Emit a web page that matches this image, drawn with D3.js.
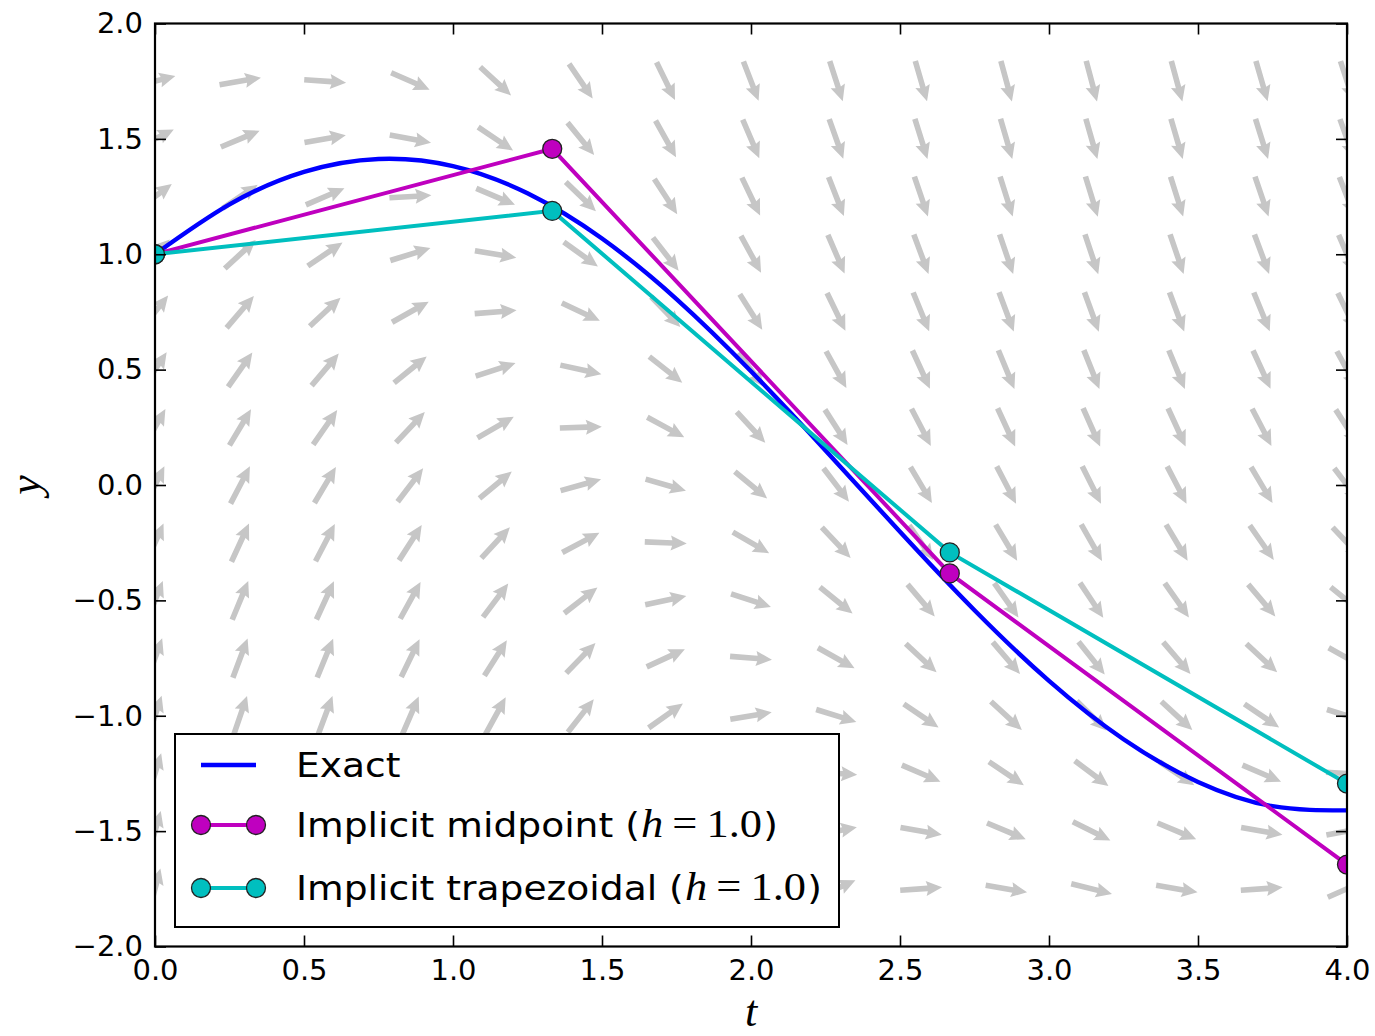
<!DOCTYPE html>
<html>
<head>
<meta charset="utf-8">
<script src="https://cdn.jsdelivr.net/npm/d3@7"></script>
<style>
  body { margin: 0; background: #fff; }
  svg { display: block; }
  .tick text { font-family: "DejaVu Sans", sans-serif; font-size: 29px; fill: #000; }
  .tick line { stroke: #000; stroke-width: 1.6px; }
</style>
</head>
<body>
<div id="chart"></div>
<script>
// exact solution
const tExact = [0, 0.25, 0.5, 0.75, 1.0, 1.25, 1.5, 1.75, 2.0, 2.25, 2.5, 2.75, 3.0, 3.25, 3.5, 3.75, 4.0];
const yExact = [1.0, 1.216, 1.357, 1.413, 1.382, 1.264, 1.068, 0.806, 0.493, 0.150, -0.203, -0.543, -0.849, -1.102, -1.287, -1.392, -1.410];

// numerical steps
const tSteps = [0, 1.333, 2.667, 4.0];
const yMidpoint = [1.0, 1.457, -0.383, -1.645];
const yTrapezoidal = [1.0, 1.188, -0.292, -1.294];

// direction field grid (arrow centres) and slopes dy/dt, rows top to bottom
const tGrid = [0, 0.286, 0.571, 0.857, 1.143, 1.429, 1.714, 2.0, 2.286, 2.571, 2.857, 3.143, 3.429, 3.714, 4.0];
const yGrid = [1.75, 1.5, 1.25, 1.0, 0.75, 0.5, 0.25, 0, -0.25, -0.5, -0.75, -1.0, -1.25, -1.5, -1.75];
const fieldSlopes = [
  [0.25, 0.17, -0.07, -0.44, -0.92, -1.47, -2.04, -2.58, -3.06, -3.43, -3.67, -3.75, -3.67, -3.43, -3.06],
  [0.50, 0.42, 0.18, -0.19, -0.67, -1.22, -1.79, -2.33, -2.81, -3.18, -3.42, -3.50, -3.42, -3.18, -2.81],
  [0.75, 0.67, 0.43, 0.06, -0.42, -0.97, -1.54, -2.08, -2.56, -2.93, -3.17, -3.25, -3.17, -2.93, -2.56],
  [1.00, 0.92, 0.68, 0.31, -0.17, -0.72, -1.29, -1.83, -2.31, -2.68, -2.92, -3.00, -2.92, -2.68, -2.31],
  [1.25, 1.17, 0.93, 0.56, 0.08, -0.47, -1.04, -1.58, -2.06, -2.43, -2.67, -2.75, -2.67, -2.43, -2.06],
  [1.50, 1.42, 1.18, 0.81, 0.33, -0.22, -0.79, -1.33, -1.81, -2.18, -2.42, -2.50, -2.42, -2.18, -1.81],
  [1.75, 1.67, 1.43, 1.06, 0.58, 0.03, -0.54, -1.08, -1.56, -1.93, -2.17, -2.25, -2.17, -1.93, -1.56],
  [2.00, 1.92, 1.68, 1.31, 0.83, 0.28, -0.29, -0.83, -1.31, -1.68, -1.92, -2.00, -1.92, -1.68, -1.31],
  [2.25, 2.17, 1.93, 1.56, 1.08, 0.53, -0.04, -0.58, -1.06, -1.43, -1.67, -1.75, -1.67, -1.43, -1.06],
  [2.50, 2.42, 2.18, 1.81, 1.33, 0.78, 0.21, -0.33, -0.81, -1.18, -1.42, -1.50, -1.42, -1.18, -0.81],
  [2.75, 2.67, 2.43, 2.06, 1.58, 1.03, 0.46, -0.08, -0.56, -0.93, -1.17, -1.25, -1.17, -0.93, -0.56],
  [3.00, 2.92, 2.68, 2.31, 1.83, 1.28, 0.71, 0.17, -0.31, -0.68, -0.92, -1.00, -0.92, -0.68, -0.31],
  [3.25, 3.17, 2.93, 2.56, 2.08, 1.53, 0.96, 0.42, -0.06, -0.43, -0.67, -0.75, -0.67, -0.43, -0.06],
  [3.50, 3.42, 3.18, 2.81, 2.33, 1.78, 1.21, 0.67, 0.19, -0.18, -0.42, -0.50, -0.42, -0.18, 0.19],
  [3.75, 3.67, 3.43, 3.06, 2.58, 2.03, 1.46, 0.92, 0.44, 0.07, -0.17, -0.25, -0.17, 0.07, 0.44]
];

const xTicks = [0, 0.5, 1.0, 1.5, 2.0, 2.5, 3.0, 3.5, 4.0];
const yTicks = [-2.0, -1.5, -1.0, -0.5, 0, 0.5, 1.0, 1.5, 2.0];
const legendLabels = ["Exact", "Implicit midpoint", "Implicit trapezoidal"];
const stepSymbol = "h";
const stepValue = "1.0";

const W = 1375, H = 1036;
const plotLeft = 155, plotRight = 1347, plotTop = 23.5, plotBottom = 946.5;

const svg = d3.select("#chart").append("svg")
    .attr("width", W)
    .attr("height", H);

const x = d3.scaleLinear().domain([0, 4]).range([plotLeft, plotRight]);
const y = d3.scaleLinear().domain([-2, 2]).range([plotBottom, plotTop]);

svg.append("clipPath").attr("id", "plot-clip")
  .append("rect")
    .attr("x", plotLeft).attr("y", plotTop)
    .attr("width", plotRight - plotLeft).attr("height", plotBottom - plotTop);

const plot = svg.append("g").attr("clip-path", "url(#plot-clip)");

// quiver: unit arrows, pivot in the middle
const arrowLen = 42, shaftW = 2.8, headW = 7.5, headL = 16;
const arrowShape = [
  [-arrowLen / 2, -shaftW], [arrowLen / 2 - headL + 1.5, -shaftW], [arrowLen / 2 - headL, -headW],
  [arrowLen / 2, 0],
  [arrowLen / 2 - headL, headW], [arrowLen / 2 - headL + 1.5, shaftW], [-arrowLen / 2, shaftW]
];
const arrows = [];
yGrid.forEach((yv, j) => {
  tGrid.forEach((tv, i) => arrows.push({t: tv, y: yv, s: fieldSlopes[j][i]}));
});
plot.append("g")
  .selectAll("polygon")
  .data(arrows)
  .join("polygon")
    .attr("points", arrowShape.map(p => p.join(",")).join(" "))
    .attr("transform", d => `translate(${x(d.t)},${y(d.y)}) rotate(${Math.atan2(-d.s, 1) * 180 / Math.PI})`)
    .attr("fill", "#c6c6c6");

// exact curve
const exactPts = tExact.map((t, i) => [t, yExact[i]]);
plot.append("path")
    .datum(exactPts)
    .attr("fill", "none")
    .attr("stroke", "#0000ff")
    .attr("stroke-width", 4.4)
    .attr("d", d3.line().x(d => x(d[0])).y(d => y(d[1])).curve(d3.curveNatural));

const series = [
  {vals: yMidpoint, color: "#bf00bf"},
  {vals: yTrapezoidal, color: "#00bfbf"}
];
series.forEach(s => {
  const pts = tSteps.map((t, i) => [t, s.vals[i]]);
  plot.append("path")
      .datum(pts)
      .attr("fill", "none")
      .attr("stroke", s.color)
      .attr("stroke-width", 4)
      .attr("d", d3.line().x(d => x(d[0])).y(d => y(d[1])));
  plot.append("g")
    .selectAll("circle")
    .data(pts)
    .join("circle")
      .attr("cx", d => x(d[0]))
      .attr("cy", d => y(d[1]))
      .attr("r", 9.5)
      .attr("fill", s.color)
      .attr("stroke", "#222")
      .attr("stroke-width", 1.3);
});

// axes, ticks pointing inwards on all sides
const fmt = d3.format(".1f");
svg.append("g")
    .attr("transform", `translate(0,${plotBottom})`)
    .call(d3.axisBottom(x).tickValues(xTicks).tickFormat(fmt).tickSizeInner(-11).tickSizeOuter(0).tickPadding(13))
    .call(g => g.select(".domain").remove());
svg.append("g")
    .attr("transform", `translate(0,${plotTop})`)
    .call(d3.axisTop(x).tickValues(xTicks).tickFormat("").tickSizeInner(-11).tickSizeOuter(0))
    .call(g => g.select(".domain").remove());
svg.append("g")
    .attr("transform", `translate(${plotLeft},0)`)
    .call(d3.axisLeft(y).tickValues(yTicks).tickFormat(fmt).tickSizeInner(-11).tickSizeOuter(0).tickPadding(12))
    .call(g => g.select(".domain").remove());
svg.append("g")
    .attr("transform", `translate(${plotRight},0)`)
    .call(d3.axisRight(y).tickValues(yTicks).tickFormat("").tickSizeInner(-11).tickSizeOuter(0))
    .call(g => g.select(".domain").remove());

svg.append("rect")
    .attr("x", plotLeft).attr("y", plotTop)
    .attr("width", plotRight - plotLeft).attr("height", plotBottom - plotTop)
    .attr("fill", "none")
    .attr("stroke", "#000")
    .attr("stroke-width", 2.2);

// axis labels
svg.append("text")
    .attr("x", 751).attr("y", 1026)
    .attr("text-anchor", "middle")
    .attr("font-family", "Liberation Serif, serif")
    .attr("font-style", "italic")
    .attr("font-size", 44)
    .text("t");
svg.append("text")
    .attr("transform", `translate(40,${(plotTop + plotBottom) / 2}) rotate(-90)`)
    .attr("text-anchor", "middle")
    .attr("font-family", "Liberation Serif, serif")
    .attr("font-style", "italic")
    .attr("font-size", 44)
    .text("y");

// legend
const legend = svg.append("g");
legend.append("rect")
    .attr("x", 175).attr("y", 734)
    .attr("width", 664).attr("height", 193)
    .attr("fill", "#fff")
    .attr("stroke", "#000")
    .attr("stroke-width", 2);

const rowY = [765, 825, 888];
const legendColors = ["#0000ff", "#bf00bf", "#00bfbf"];
legendLabels.forEach((label, i) => {
  const row = legend.append("g").attr("transform", `translate(0,${rowY[i]})`);
  row.append("line")
      .attr("x1", 201).attr("x2", 256)
      .attr("stroke", legendColors[i])
      .attr("stroke-width", i === 0 ? 4.4 : 4);
  if (i > 0) {
    [201, 256].forEach(cx => row.append("circle")
        .attr("cx", cx).attr("r", 9.5)
        .attr("fill", legendColors[i])
        .attr("stroke", "#222")
        .attr("stroke-width", 1.3));
  }
  // legend text is a little wider than tall in the reference
  const txt = row.append("g")
      .attr("transform", "translate(296,0) scale(1.14,1)")
    .append("text")
      .attr("dy", "0.36em")
      .attr("font-family", "DejaVu Sans, sans-serif")
      .attr("font-size", 33);
  if (i === 0) {
    txt.text(label);
  } else {
    txt.append("tspan").text(label + " (");
    txt.append("tspan").attr("font-family", "Liberation Serif, serif").attr("font-style", "italic").attr("font-size", 39).attr("dx", 1).text(stepSymbol);
    txt.append("tspan").attr("font-family", "Liberation Serif, serif").attr("font-size", 39).attr("dx", 8).text("=");
    txt.append("tspan").attr("font-family", "Liberation Serif, serif").attr("font-size", 39).attr("dx", 8).text(stepValue);
    txt.append("tspan").attr("dx", 1).text(")");
  }
});
</script>
</body>
</html>
